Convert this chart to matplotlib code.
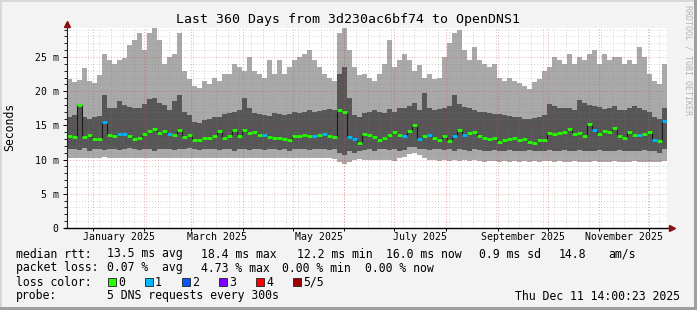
import numpy as np
import matplotlib
matplotlib.use("Agg")
import matplotlib.pyplot as plt
from matplotlib.patches import Rectangle

# smokeping data, 120 bins of 3 days, values in ms
rtt_min = [10.3, 10.2, 10.3, 10.2, 10.3, 10.2, 10.3, 10.4, 10.2, 10.3,
           10.2, 10.3, 10.2, 10.3, 10.2, 10.3, 10.2, 10.2, 10.3, 10.2,
           10.3, 10.2, 10.3, 10.2, 10.3, 10.2, 10.2, 10.3, 10.2, 10.3,
           10.2, 10.3, 10.2, 10.3, 10.2, 10.3, 10.2, 10.3, 10.2, 10.2,
           10.3, 10.2, 10.3, 10.2, 10.3, 10.2, 10.3, 10.2, 10.2, 10.3,
           10.2, 10.3, 10.2, 10.1, 9.7, 9.4, 9.6, 9.9, 10.1, 10.0,
           10.0, 9.9, 10.0, 9.9, 10.0, 9.8, 10.2, 10.4, 10.8, 11.0,
           10.6, 10.2, 9.9, 10.0, 9.8, 9.9, 9.8, 9.9, 9.8, 9.9,
           9.8, 9.9, 9.8, 9.7, 9.8, 9.8, 9.7, 9.8, 9.7, 9.8,
           9.7, 9.8, 9.7, 9.8, 9.7, 9.8, 9.8, 9.7, 9.8, 9.7,
           9.7, 9.8, 9.7, 9.6, 9.7, 9.8, 9.7, 9.6, 9.7, 9.8,
           9.7, 9.6, 9.7, 9.8, 9.7, 9.6, 9.7, 9.6, 9.7, 9.8]

rtt_q1 = [11.6, 11.5, 11.4, 11.7, 11.3, 11.5, 11.6, 11.4, 11.5, 11.6,
          11.4, 11.5, 11.7, 11.5, 11.4, 11.6, 11.5, 11.3, 11.5, 11.6,
          11.5, 11.4, 11.6, 11.5, 11.7, 11.6, 11.4, 11.5, 11.6, 11.5,
          11.4, 11.6, 11.5, 11.3, 11.5, 11.6, 11.4, 11.5, 11.6, 11.4,
          11.5, 11.6, 11.4, 11.5, 11.3, 11.5, 11.6, 11.5, 11.4, 11.5,
          11.6, 11.5, 11.4, 11.5, 10.9, 10.7, 11.2, 11.0, 11.3, 11.4,
          11.5, 11.3, 11.5, 11.6, 11.4, 11.5, 11.3, 11.4, 11.8, 11.9,
          11.6, 11.5, 11.4, 11.5, 11.6, 11.4, 11.5, 11.3, 11.5, 11.4,
          11.3, 11.5, 11.4, 11.2, 11.3, 11.4, 11.2, 11.3, 11.4, 11.2,
          11.3, 11.2, 11.4, 11.3, 11.2, 11.3, 11.4, 11.2, 11.3, 11.4,
          11.2, 11.3, 11.4, 11.2, 11.3, 11.2, 11.4, 11.3, 11.2, 11.3,
          11.4, 11.2, 11.3, 11.2, 11.3, 11.4, 11.2, 11.3, 11.0, 11.5]

rtt_q3 = [16.3, 16.5, 18.0, 16.2, 16.0, 16.3, 16.4, 19.5, 17.5, 17.6,
          18.6, 18.0, 17.7, 17.5, 17.6, 18.2, 18.8, 19.0, 18.3, 18.0,
          17.3, 18.5, 19.5, 17.0, 16.5, 15.5, 15.4, 15.8, 15.9, 16.2,
          16.3, 16.6, 16.8, 16.9, 17.2, 19.0, 17.5, 16.8, 16.6, 16.5,
          16.4, 16.8, 16.7, 16.5, 16.6, 16.9, 16.8, 17.0, 17.2, 16.9,
          17.1, 17.3, 17.4, 17.3, 22.5, 23.5, 19.0, 16.5, 16.2, 16.8,
          16.9, 17.2, 17.0, 16.8, 17.4, 17.0, 17.6, 17.5, 17.8, 18.3,
          17.3, 19.8, 17.6, 17.3, 17.4, 17.5, 17.8, 19.5, 18.2, 17.7,
          17.5, 17.3, 17.0, 16.9, 16.8, 16.6, 16.6, 16.5, 16.4, 16.3,
          16.3, 16.0, 15.9, 16.1, 16.2, 16.5, 18.2, 17.8, 17.6, 17.5,
          17.6, 17.3, 18.7, 18.3, 18.0, 17.8, 17.7, 17.4, 17.6, 17.8,
          17.2, 17.3, 17.6, 17.8, 17.5, 17.3, 16.9, 16.3, 16.0, 17.5]

rtt_max = [21.8, 21.3, 21.6, 23.4, 21.5, 21.2, 22.3, 25.5, 24.5, 24.0,
           24.5, 24.8, 26.8, 27.5, 28.5, 26.0, 28.5, 29.2, 27.5, 24.0,
           25.0, 25.5, 28.5, 23.0, 21.8, 20.8, 20.5, 21.5, 21.0, 22.0,
           21.5, 22.5, 22.5, 24.0, 23.5, 23.0, 25.0, 23.0, 22.5, 22.0,
           24.5, 22.5, 24.5, 22.5, 23.5, 24.5, 25.0, 25.5, 26.0, 24.5,
           23.5, 22.5, 22.0, 21.5, 28.5, 29.5, 26.0, 23.5, 22.3, 22.5,
           22.0, 21.5, 22.5, 24.0, 27.5, 23.5, 24.5, 25.5, 24.5, 23.0,
           23.8, 22.0, 22.5, 21.8, 22.0, 25.0, 27.0, 28.5, 29.0, 26.0,
           24.5, 26.5, 24.5, 24.0, 23.5, 24.0, 22.0, 21.5, 22.0, 21.5,
           21.2, 20.8, 20.3, 21.3, 21.8, 23.0, 23.5, 25.0, 24.5, 24.0,
           25.5, 24.0, 25.0, 24.5, 25.5, 26.0, 24.0, 25.5, 24.5, 25.0,
           25.0, 24.0, 24.5, 24.0, 26.5, 25.0, 22.5, 21.5, 21.0, 24.0]

median = [13.4, 13.3, 18.0, 13.3, 13.6, 13.0, 13.0, 15.5, 13.6, 13.5,
          13.8, 13.7, 13.4, 13.0, 13.1, 13.8, 14.2, 14.5, 13.9, 14.2,
          13.8, 13.6, 14.3, 13.3, 13.6, 12.9, 12.8, 13.2, 13.1, 13.5,
          14.2, 13.2, 13.4, 14.4, 13.5, 14.3, 13.9, 14.0, 13.6, 13.6,
          13.3, 13.2, 13.1, 13.0, 12.9, 13.4, 13.5, 13.6, 13.5, 13.5,
          13.6, 13.8, 13.5, 13.3, 17.3, 17.0, 13.3, 13.0, 12.5, 13.7,
          13.6, 13.3, 12.9, 13.1, 13.6, 14.0, 13.6, 13.4, 14.2, 15.0,
          13.0, 13.5, 13.6, 13.1, 12.9, 13.4, 12.7, 13.5, 14.3, 13.6,
          13.9, 14.1, 13.5, 13.2, 13.0, 13.2, 12.6, 12.8, 13.0, 13.1,
          12.8, 13.0, 12.6, 12.5, 12.8, 12.9, 13.9, 13.7, 13.9, 14.1,
          14.5, 13.7, 13.9, 13.4, 15.2, 14.4, 13.7, 14.2, 14.0, 14.6,
          13.4, 13.1, 14.0, 13.6, 13.6, 13.8, 14.0, 12.9, 12.7, 15.6]

# lost pings per bin (0..5)
loss = [0, 0, 0, 0, 0, 0, 0, 1, 0, 0,
        1, 1, 0, 0, 0, 0, 0, 0, 0, 0,
        1, 0, 0, 0, 0, 0, 0, 0, 0, 0,
        0, 0, 0, 0, 0, 0, 0, 0, 0, 1,
        0, 0, 0, 0, 0, 0, 0, 0, 0, 1,
        0, 1, 0, 0, 0, 0, 1, 1, 0, 0,
        0, 0, 0, 0, 0, 0, 0, 1, 0, 0,
        1, 0, 1, 0, 0, 0, 0, 1, 0, 1,
        0, 0, 0, 0, 0, 0, 0, 0, 0, 0,
        0, 0, 0, 0, 0, 0, 0, 0, 0, 0,
        0, 0, 0, 0, 0, 1, 0, 0, 0, 0,
        0, 0, 0, 0, 1, 0, 0, 1, 0, 1]

loss_names = ["0", "1", "2", "3", "4", "5/5"]
loss_colors = ["#26ff00", "#00b8ff", "#0059ff", "#7e00ff", "#ff0000", "#a10000"]

month_labels = ["January 2025", "March 2025", "May 2025",
                "July 2025", "September 2025", "November 2025"]
label_months = ["2025-01", "2025-03", "2025-05", "2025-07", "2025-09", "2025-11"]
ytick_vals = [0, 5, 10, 15, 20, 25]
ytick_labels = ["0", "5 m", "10 m", "15 m", "20 m", "25 m"]

start = np.datetime64("2024-12-16T14:00:23")
span_days = 360
bin_days = 3

W, H = 697, 310
MONO = "DejaVu Sans Mono"


def days(t):
    return (np.datetime64(t, "s") - start) / np.timedelta64(1, "D")


fig = plt.figure(figsize=(W / 100, H / 100), dpi=100)
fig.patch.set_facecolor("#f3f3f3")

ax = fig.add_axes([67 / W, 82 / H, 600 / W, 200 / H])
ax.set_facecolor("white")
ax.set_xlim(0, span_days)
ax.set_ylim(0, 200 / 6.84)

edges = np.arange(len(rtt_max) + 1) * bin_days

# smoke
ax.stairs(rtt_max, edges, baseline=rtt_min, fill=True, color="#a9a9a9", lw=0, zorder=2)
ax.stairs(rtt_q3, edges, baseline=rtt_q1, fill=True, color="#565656", lw=0, zorder=2)

# grid (drawn over the smoke like rrdtool)
months = np.arange(np.datetime64("2025-01"), np.datetime64("2026-01"), dtype="datetime64[M]")
month_x = [days(m.astype("datetime64[D]")) for m in months]
weeks = np.arange(np.datetime64("2024-12-22"), np.datetime64("2025-12-12"), np.timedelta64(7, "D"))
for w in weeks:
    ax.axvline(days(w), color="#808080", alpha=0.35, lw=0.7, ls=(0, (1, 2)), zorder=3)
for v in range(1, 30):
    if v % 5:
        ax.axhline(v, color="#808080", alpha=0.35, lw=0.7, ls=(0, (1, 2)), zorder=3)
for mx in month_x:
    ax.axvline(mx, color="#d04040", alpha=0.45, lw=0.7, ls=(0, (1, 2)), zorder=3)
for v in ytick_vals[1:]:
    ax.axhline(v, color="#d04040", alpha=0.45, lw=0.7, ls=(0, (1, 2)), zorder=3)

# median line coloured by loss
ax.stairs(median, edges, baseline=None, color="#1a1a1a", lw=0.8, zorder=4)
for i, m in enumerate(median):
    ax.hlines(m, edges[i], edges[i + 1], color=loss_colors[loss[i]], lw=2, zorder=5)

# axes
for s in ax.spines.values():
    s.set_visible(False)
ax.plot([0, 0], [0, 1.02], transform=ax.transAxes, color="#202020", lw=0.8, clip_on=False, zorder=6)
ax.plot([-0.004, 1.008], [0, 0], transform=ax.transAxes, color="black", lw=1, clip_on=False, zorder=6)
ax.plot([0], [1.022], marker="^", ms=5, color="#8b1010", transform=ax.transAxes, clip_on=False, zorder=7)
ax.plot([1.009], [0], marker=">", ms=5, color="#8b1010", transform=ax.transAxes, clip_on=False, zorder=7)

ax.set_xticks(month_x)
ax.set_xticklabels([])
ax.tick_params(axis="x", direction="out", length=2, width=0.7, color="black")
ax.set_yticks(ytick_vals)
ax.set_yticklabels(ytick_labels, fontfamily=MONO, fontsize=7.1)
ax.set_yticks(range(0, 30), minor=True)
ax.tick_params(axis="y", which="major", direction="out", length=3, width=0.7, pad=3)
ax.tick_params(axis="y", which="minor", direction="out", length=2, width=0.6)

for lab, m in zip(month_labels, label_months):
    m0 = np.datetime64(m, "M")
    mid = (days(m0.astype("datetime64[D]")) + days((m0 + 1).astype("datetime64[D]"))) / 2
    ax.text(mid, -0.045, lab, transform=ax.get_xaxis_transform(), ha="center", va="center",
            fontfamily=MONO, fontsize=7.1)


def ftext(x, y, s, **kw):
    kw.setdefault("fontfamily", MONO)
    kw.setdefault("fontsize", 8.3)
    kw.setdefault("va", "center")
    fig.text(x / W, 1 - y / H, s, **kw)


ftext(348, 19, "Last 360 Days from 3d230ac6bf74 to OpenDNS1", fontsize=9.5, ha="center")
ftext(10, 127, "Seconds", rotation=90, ha="center")
ftext(688, 60, "RRDTOOL / TOBI OETIKER", rotation=270, ha="center", fontsize=6, color="#b4b4b4")

# legend block
ftext(16, 254, "median rtt:")
ftext(107, 254, "13.5 ms avg")
ftext(201, 254, "18.4 ms max")
ftext(297, 254, "12.2 ms min")
ftext(386, 254, "16.0 ms now")
ftext(479, 254, "0.9 ms sd")
ftext(559, 254, "14.8")
ftext(608, 254, "am/s")

ftext(16, 268, "packet loss:")
ftext(107, 268, "0.07 %  avg")
ftext(201, 268, "4.73 % max")
ftext(282, 268, "0.00 % min")
ftext(365, 268, "0.00 % now")

ftext(16, 282, "loss color:")
for k, (name, col) in enumerate(zip(loss_names, loss_colors)):
    bx = 108 + 37 * k
    fig.add_artist(Rectangle((bx / W, 1 - 286 / H), 8 / W, 8 / H, transform=fig.transFigure,
                             facecolor=col, edgecolor="#202020", lw=0.6))
    ftext(bx + 10, 282, name)

ftext(16, 296, "probe:")
ftext(107, 296, "5 DNS requests every 300s")
ftext(680, 296, "Thu Dec 11 14:00:23 2025", ha="right")

# rrdtool frame shading
fig.add_artist(Rectangle((0, 0), 1, 3 / H, transform=fig.transFigure, facecolor="#9e9e9e", lw=0))
fig.add_artist(Rectangle((1 - 3 / W, 0), 3 / W, 1, transform=fig.transFigure, facecolor="#9e9e9e", lw=0))
fig.add_artist(Rectangle((0, 1 - 2 / H), 1 - 3 / W, 2 / H, transform=fig.transFigure, facecolor="#d8d8d8", lw=0))
fig.add_artist(Rectangle((0, 3 / H), 2 / W, 1 - 5 / H, transform=fig.transFigure, facecolor="#d8d8d8", lw=0))

fig.savefig("out.png", dpi=100, facecolor=fig.get_facecolor())
